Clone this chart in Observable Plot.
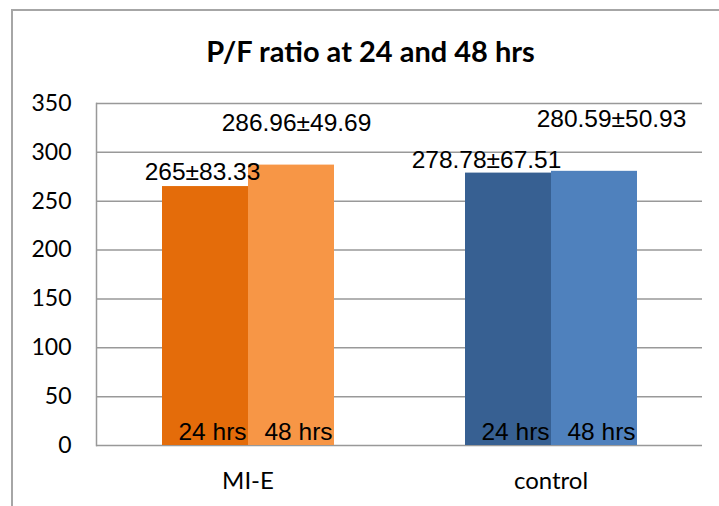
<!DOCTYPE html>
<html>
<head>
<meta charset="utf-8">
<script src="https://cdn.jsdelivr.net/npm/d3@7"></script>
<script src="https://cdn.jsdelivr.net/npm/@observablehq/plot@0.6"></script>
<style>
  html, body { margin: 0; padding: 0; background: #fff; overflow: hidden; }
  #wrap { position: relative; width: 719px; height: 506px; overflow: hidden; background: #fff; }
  #frame { position: absolute; left: 11px; top: 9px; width: 800px; height: 600px;
           border-left: 2px solid #a6a6a6; border-top: 2px solid #a6a6a6; pointer-events: none; }
  #title { height: 86px; box-sizing: border-box; padding-top: 33px; padding-left: 22px;
           text-align: center; font-family: Lato, sans-serif; font-weight: bold; font-size: 29px;
           line-height: normal; color: #000; white-space: nowrap; }
  svg { display: block; }
</style>
</head>
<body>
<div id="wrap">
  <div id="title">P/F ratio at 24 and 48 hrs</div>
  <div id="chart"></div>
  <div id="frame"></div>
</div>
<script>
// ---- data ----
const groups = ["MI-E", "control"];
const times = ["24 hrs", "48 hrs"];
const miEMean = [265, 286.96];
const miESD = [83.33, 49.69];
const controlMean = [278.78, 280.59];
const controlSD = [67.51, 50.93];
const yTicks = [0, 50, 100, 150, 200, 250, 300, 350];

const means = {"MI-E": miEMean, "control": controlMean};
const sds = {"MI-E": miESD, "control": controlSD};
const rows = [];
for (const g of groups) {
  times.forEach((t, i) => {
    rows.push({group: g, time: t, key: g + " " + t, value: means[g][i], label: `${means[g][i]}±${sds[g][i]}`});
  });
}
const keys = rows.map(d => d.key);
const pick = (g, t) => rows.filter(d => d.group === g && d.time === t);

const valueFont = {fontFamily: "'Liberation Sans', Arial, sans-serif", fontSize: 24.5, fill: "#000"};
const innerFont = {fontFamily: "'Liberation Sans', Arial, sans-serif", fontSize: 24.5, fill: "#000"};

const chart = Plot.plot({
  width: 719,
  height: 420,
  marginTop: 17,
  marginBottom: 61,
  marginLeft: 95,
  marginRight: 17,
  style: {background: "#fff", color: "#000"},
  fx: {domain: groups, padding: 0, axis: null, label: null},
  x: {domain: times, paddingInner: 0, paddingOuter: 0.744, axis: null},
  y: {domain: [0, 350], axis: null},
  color: {type: "ordinal", domain: keys, range: ["#E46C0A", "#F79646", "#376092", "#4F81BD"]},
  marks: [
    Plot.gridY(yTicks, {stroke: "#999", strokeOpacity: 1, strokeWidth: 1.5}),
    Plot.frame({anchor: "left", facetAnchor: "left", stroke: "#999", strokeWidth: 1.5}),
    Plot.axisY(yTicks, {tickSize: 0, tickPadding: 25, fontSize: 23, fontFamily: "Lato, sans-serif", label: null}),
    Plot.axisFx({anchor: "bottom", tickSize: 0, tickPadding: 26, fontSize: 24, fontFamily: "Lato, sans-serif", label: null}),
    Plot.barY(rows, {fx: "group", x: "time", y: "value", fill: "key"}),
    Plot.text(rows, {fx: "group", x: "time", y: 0, text: "time", dy: -13, dx: 7, ...innerFont}),
    Plot.text(pick("MI-E", "24 hrs"), {fx: "group", x: "time", y: "value", text: "label", dx: -3, dy: -14, ...valueFont}),
    Plot.text(pick("MI-E", "48 hrs"), {fx: "group", x: "time", y: "value", text: "label", dx: 5, dy: -42, ...valueFont}),
    Plot.text(pick("control", "24 hrs"), {fx: "group", x: "time", y: "value", text: "label", dx: -22, dy: -13, ...valueFont}),
    Plot.text(pick("control", "48 hrs"), {fx: "group", x: "time", y: "value", text: "label", dx: 17, dy: -52, ...valueFont})
  ]
});
document.getElementById("chart").appendChild(chart);
</script>
</body>
</html>
